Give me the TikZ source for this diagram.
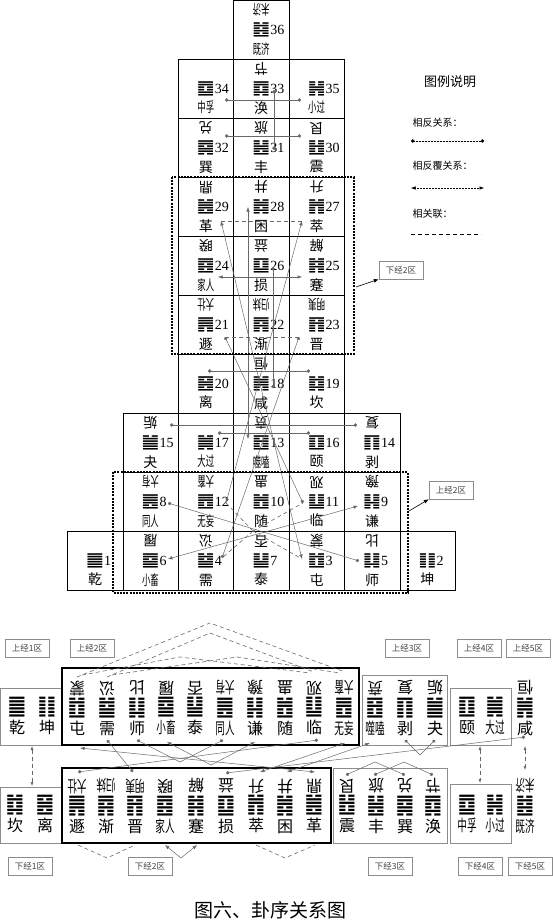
\documentclass[tikz,border=0pt]{standalone}
\usepackage{fontspec}
\setmainfont{Liberation Serif}
\newfontfamily\cjk{Noto Sans CJK SC}
\newfontfamily\hexfont{DejaVu Sans}
\usetikzlibrary{arrows.meta}

\newcommand{\hx}[1]{\scalebox{1.45}[1.15]{\hexfont\char"4D#1}}
\newcommand{\hxb}[1]{\scalebox{1.3}[1.4]{\hexfont\char"4D#1}}
\newcommand{\up}[1]{\rotatebox[origin=c]{180}{#1}}
\newcommand{\duo}[1]{\scalebox{0.6}[1]{#1}}
\newcommand{\nr}[1]{\rlap{\rmfamily#1}}

\begin{document}
\begin{tikzpicture}[
    x=1pt, y=-1pt,
    every node/.style={font=\cjk},
    cell/.style={
        draw,
        minimum width=55.4pt,
        minimum height=59pt,
        inner sep=0pt,
        align=center,
        font=\cjk\fontsize{14}{19.5}\selectfont
    },
    gua/.style={inner sep=0pt, align=center, font=\cjk\fontsize{16}{20}\selectfont},
    tag/.style={draw=boxgray, text=darkgray, minimum width=44pt, minimum height=18pt,
        inner sep=1pt, font=\cjk\fontsize{8.5}{10}\selectfont},
    opp/.style={draw=linegray, line width=0.5pt, {Circle[length=3.4pt]}-{Circle[length=3.4pt]}},
    inv/.style={draw=linegray, line width=0.5pt, {Latex[length=4.5pt,width=3.5pt]}-{Latex[length=4.5pt,width=3.5pt]}},
    rel/.style={draw=linegray, line width=0.6pt, dash pattern=on 4pt off 3pt},
    zone/.style={draw=black, line width=1.4pt, dash pattern=on 2pt off 1.2pt}
]

\definecolor{linegray}{RGB}{105, 105, 105}
\definecolor{boxgray}{RGB}{140, 140, 140}

\useasboundingbox (0,0) rectangle (553,923);

% pyramid
\node[cell] (g36) at (261.2,29.5)  {\up{\duo{未济}}\\\hx{FE}\nr{36}\\\duo{既济}};
\node[cell] (g34) at (205.8,88.5)  {\phantom{口}\\\hx{FC}\nr{34}\\\duo{中孚}};
\node[cell] (g33) at (261.2,88.5)  {\up{节}\\\hx{FA}\nr{33}\\涣};
\node[cell] (g35) at (316.6,88.5)  {\phantom{口}\\\hx{FD}\nr{35}\\\duo{小过}};
\node[cell] (g32) at (205.8,147.5) {\up{兑}\\\hx{F8}\nr{32}\\巽};
\node[cell] (g31) at (261.2,147.5) {\up{旅}\\\hx{F6}\nr{31}\\丰};
\node[cell] (g30) at (316.6,147.5) {\up{艮}\\\hx{F2}\nr{30}\\震};
\node[cell] (g29) at (205.8,206.5) {\up{鼎}\\\hx{F0}\nr{29}\\革};
\node[cell] (g28) at (261.2,206.5) {\up{井}\\\hx{EE}\nr{28}\\困};
\node[cell] (g27) at (316.6,206.5) {\up{升}\\\hx{EC}\nr{27}\\萃};
\node[cell] (g24) at (205.8,265.5) {\up{睽}\\\hx{E4}\nr{24}\\\duo{家人}};
\node[cell] (g26) at (261.2,265.5) {\up{益}\\\hx{E8}\nr{26}\\损};
\node[cell] (g25) at (316.6,265.5) {\up{解}\\\hx{E6}\nr{25}\\蹇};
\node[cell] (g21) at (205.8,324.5) {\up{\duo{大壮}}\\\hx{E0}\nr{21}\\遯};
\node[cell] (g22) at (261.2,324.5) {\up{\duo{归妹}}\\\hx{F4}\nr{22}\\渐};
\node[cell] (g23) at (316.6,324.5) {\up{\duo{明夷}}\\\hx{E2}\nr{23}\\晋};
\node[cell] (g20) at (205.8,383.5) {\phantom{口}\\\hx{DD}\nr{20}\\离};
\node[cell] (g18) at (261.2,383.5) {\up{恒}\\\hx{DE}\nr{18}\\咸};
\node[cell] (g19) at (316.6,383.5) {\phantom{口}\\\hx{DC}\nr{19}\\坎};
\node[cell] (g15) at (150.4,442.5) {\up{姤}\\\hx{EA}\nr{15}\\夬};
\node[cell] (g17) at (205.8,442.5) {\phantom{口}\\\hx{DB}\nr{17}\\\duo{大过}};
\node[cell] (g13) at (261.2,442.5) {\up{贲}\\\hx{D4}\nr{13}\\\duo{噬嗑}};
\node[cell] (g16) at (316.6,442.5) {\phantom{口}\\\hx{DA}\nr{16}\\颐};
\node[cell] (g14) at (372,442.5)   {\up{复}\\\hx{D6}\nr{14}\\剥};
\node[cell] (g8)  at (150.4,501.5) {\up{\duo{大有}}\\\hx{CC}\nr{8}\\\duo{同人}};
\node[cell] (g12) at (205.8,501.5) {\up{\duo{大畜}}\\\hx{D8}\nr{12}\\\duo{无妄}};
\node[cell] (g10) at (261.2,501.5) {\up{蛊}\\\hx{D0}\nr{10}\\随};
\node[cell] (g11) at (316.6,501.5) {\up{观}\\\hx{D2}\nr{11}\\临};
\node[cell] (g9)  at (372,501.5)   {\up{豫}\\\hx{CE}\nr{9}\\谦};
\node[cell] (g1)  at (95,560.5)    {\phantom{口}\\\hx{C0}\nr{1}\\乾};
\node[cell] (g6)  at (150.4,560.5) {\up{履}\\\hx{C8}\nr{6}\\\duo{小畜}};
\node[cell] (g4)  at (205.8,560.5) {\up{讼}\\\hx{C4}\nr{4}\\需};
\node[cell] (g7)  at (261.2,560.5) {\up{否}\\\hx{CA}\nr{7}\\泰};
\node[cell] (g3)  at (316.6,560.5) {\up{蒙}\\\hx{C2}\nr{3}\\屯};
\node[cell] (g5)  at (372,560.5)   {\up{比}\\\hx{C6}\nr{5}\\师};
\node[cell] (g2)  at (427.4,560.5) {\phantom{口}\\\hx{C1}\nr{2}\\坤};

% end points in the pyramid
\coordinate (p34) at (225,100);  \coordinate (p35) at (301,100);
\coordinate (p32) at (225,136);  \coordinate (p30) at (301,136);
\coordinate (p33) at (274,90);   \coordinate (p31) at (274,150);
\coordinate (p29) at (221,221);  \coordinate (p27) at (302,221);
\coordinate (p28) at (248,207);  \coordinate (p13) at (248,439);
\coordinate (p24) at (218,277);  \coordinate (p25) at (302,277);
\coordinate (p26) at (273,267);  \coordinate (p18) at (273,388);
\coordinate (p21) at (225,337);  \coordinate (p23) at (299,337);
\coordinate (p20) at (208,371);  \coordinate (p19) at (310,371);
\coordinate (p15) at (170,425);  \coordinate (p14) at (357,425);
\coordinate (p17) at (218,433);  \coordinate (p16) at (310,433);
\coordinate (p8)  at (168,503);  \coordinate (p5)  at (359,561);
\coordinate (p6)  at (168,559);  \coordinate (p9)  at (358,506);
\coordinate (p12) at (226,503);  \coordinate (p11) at (303,503);
\coordinate (p4)  at (222,558);  \coordinate (p3)  at (302,559);
\coordinate (hub) at (253,531);

\draw[opp] (p34) -- (p35);
\draw[opp] (p32) -- (p30);
\draw[opp] (p33) -- (p31);
\draw[opp] (p26) -- (p18);
\draw[opp] (p20) -- (p19);
\draw[opp] (p15) -- (p14);
\draw[opp] (p17) -- (p16);
\draw[opp] (p8) -- (p5);
\draw[opp] (p21) -- (p11);
\draw[opp] (p23) -- (p4);
\draw[inv] (p28) -- (p13);
\draw[inv] (p24) -- (p25);
\draw[inv] (p6) -- (p9);
\draw[inv] (p29) -- (p3);
\draw[inv] (p27) -- (p12);
\draw[rel] (p29) -- (p27);
\draw[rel] (p21) -- (p23);
\draw[rel] (hub) -- (p12);
\draw[rel] (hub) -- (p11);
\draw[rel] (hub) -- (p4);
\draw[rel] (hub) -- (p3);

% zones
\draw[zone] (172,177) rectangle (354,354);
\draw[zone] (113,472) rectangle (408,593);
\node[tag] (tx2) at (401,270) {下经2区};
\node[tag] (ts2) at (451,490) {上经2区};
\draw[-{Latex[length=5pt,width=4pt]}, line width=0.6pt] (356,287) -- (tx2.south west);
\draw[-{Latex[length=5pt,width=4pt]}, line width=0.6pt] (409,511) -- (ts2.south west);

% legend
\node[font=\cjk\fontsize{13}{15}\selectfont] (leg) at (450,82) {图例说明};
\node[anchor=west, font=\cjk\fontsize{10}{12}\selectfont] (l1) at (409,123) {相反关系：};
\node[anchor=west, font=\cjk\fontsize{10}{12}\selectfont] (l2) at (409,166) {相反覆关系：};
\node[anchor=west, font=\cjk\fontsize{10}{12}\selectfont] (l3) at (409,214) {相关联：};
\coordinate (la) at (411,141); \coordinate (lb) at (484,141);
\coordinate (lc) at (411,188); \coordinate (ld) at (484,188);
\coordinate (le) at (411,234); \coordinate (lf) at (481,234);
\draw[opp, draw=black, densely dotted] (la) -- (lb);
\draw[inv, draw=black, densely dotted] (lc) -- (ld);
\draw[rel, draw=black, line width=0.9pt] (le) -- (lf);

% sequence, upper canon
\draw[boxgray, line width=0.7pt] (0,688) rectangle (62,745);
\draw[line width=1.2pt] (62,668) rectangle (359,745);
\draw[boxgray, line width=0.7pt] (362,675) rectangle (447,745);
\draw[boxgray, line width=0.7pt] (450,688) rectangle (511,745);

\node[gua] (k1)  at (17,708)  {\phantom{口}\\\hxb{C0}\\乾};
\node[gua] (k2)  at (47,708)  {\phantom{口}\\\hxb{C1}\\坤};
\node[gua] (k3)  at (77,708)  {\up{蒙}\\\hxb{C2}\\屯};
\node[gua] (k4)  at (107,708) {\up{讼}\\\hxb{C4}\\需};
\node[gua] (k5)  at (137,708) {\up{比}\\\hxb{C6}\\师};
\node[gua] (k6)  at (166,708) {\up{履}\\\hxb{C8}\\\duo{小畜}};
\node[gua] (k7)  at (195,708) {\up{否}\\\hxb{CA}\\泰};
\node[gua] (k8)  at (225,708) {\up{\duo{大有}}\\\hxb{CC}\\\duo{同人}};
\node[gua] (k9)  at (255,708) {\up{豫}\\\hxb{CE}\\谦};
\node[gua] (k10) at (285,708) {\up{蛊}\\\hxb{D0}\\随};
\node[gua] (k11) at (314,708) {\up{观}\\\hxb{D2}\\临};
\node[gua] (k12) at (344,708) {\up{\duo{大畜}}\\\hxb{D8}\\\duo{无妄}};
\node[gua] (k13) at (375,708) {\up{贲}\\\hxb{D4}\\\duo{噬嗑}};
\node[gua] (k14) at (405,708) {\up{复}\\\hxb{D6}\\剥};
\node[gua] (k15) at (435,708) {\up{姤}\\\hxb{EA}\\夬};
\node[gua] (k16) at (467,708) {\phantom{口}\\\hxb{DA}\\颐};
\node[gua] (k17) at (495,708) {\phantom{口}\\\hxb{DB}\\\duo{大过}};
\node[gua] (k18) at (525,708) {\up{恒}\\\hxb{DE}\\咸};

% sequence, lower canon
\draw[boxgray, line width=0.7pt] (0,787) rectangle (62,843);
\draw[line width=1.2pt] (62,768) rectangle (331,843);
\draw[boxgray, line width=0.7pt] (333,768) rectangle (447,843);
\draw[boxgray, line width=0.7pt] (450,784) rectangle (511,843);

\node[gua] (k19) at (15,806)  {\phantom{口}\\\hxb{DC}\\坎};
\node[gua] (k20) at (45,806)  {\phantom{口}\\\hxb{DD}\\离};
\node[gua] (k21) at (77,806)  {\up{\duo{大壮}}\\\hxb{E0}\\遯};
\node[gua] (k22) at (106,806) {\up{\duo{归妹}}\\\hxb{F4}\\渐};
\node[gua] (k23) at (135,806) {\up{\duo{明夷}}\\\hxb{E2}\\晋};
\node[gua] (k24) at (165,806) {\up{睽}\\\hxb{E4}\\\duo{家人}};
\node[gua] (k25) at (196,806) {\up{解}\\\hxb{E6}\\蹇};
\node[gua] (k26) at (226,806) {\up{益}\\\hxb{E8}\\损};
\node[gua] (k27) at (256,806) {\up{升}\\\hxb{EC}\\萃};
\node[gua] (k28) at (285,806) {\up{井}\\\hxb{EE}\\困};
\node[gua] (k29) at (314,806) {\up{鼎}\\\hxb{F0}\\革};
\node[gua] (k30) at (347,806) {\up{艮}\\\hxb{F2}\\震};
\node[gua] (k31) at (376,806) {\up{旅}\\\hxb{F6}\\丰};
\node[gua] (k32) at (405,806) {\up{兑}\\\hxb{F8}\\巽};
\node[gua] (k33) at (433,806) {\up{节}\\\hxb{FA}\\涣};
\node[gua] (k34) at (467,806) {\phantom{口}\\\hxb{FC}\\\duo{中孚}};
\node[gua] (k35) at (495,806) {\phantom{口}\\\hxb{FD}\\\duo{小过}};
\node[gua] (k36) at (525,806) {\up{\duo{未济}}\\\hxb{FE}\\\duo{既济}};

\node[tag] (ts1) at (27,648)  {上经1区};
\node[tag] (ts2b) at (92,648) {上经2区};
\node[tag] (ts3) at (407,648) {上经3区};
\node[tag] (ts4) at (479,648) {上经4区};
\node[tag] (ts5) at (528,648) {上经5区};
\node[tag] (tx1) at (30,866)  {下经1区};
\node[tag] (tx2b) at (150,866) {下经2区};
\node[tag] (tx3) at (390,866) {下经3区};
\node[tag] (tx4) at (480,866) {下经4区};
\node[tag] (tx5) at (530,866) {下经5区};

% links in the sequence
\coordinate (q3) at (80,748);   \coordinate (q29) at (315,772);
\coordinate (q4) at (107,740);  \coordinate (q23) at (133,772);
\coordinate (q11) at (318,740); \coordinate (q21) at (78,772);
\coordinate (q12) at (345,743); \coordinate (q27) at (260,772);
\coordinate (q13) at (370,743); \coordinate (q28) at (287,772);
\coordinate (q18) at (525,737); \coordinate (q26) at (226,773);
\coordinate (q5) at (137,740);  \coordinate (q8) at (223,740);
\coordinate (q6) at (167,742);  \coordinate (q9) at (255,742);
\coordinate (q14) at (405,740); \coordinate (q15) at (435,740);
\coordinate (q30) at (346,775); \coordinate (q32) at (405,775);
\coordinate (q31) at (374,775); \coordinate (q33) at (433,775);

\draw[inv] (q3) -- (q29);
\draw[opp] (q4) -- (q23);
\draw[opp] (q11) -- (q21);
\draw[inv] (q12) -- (q27);
\draw[inv] (q13) -- (q28);
\draw[opp] (q18) -- (q26);
\draw[opp] (q5) -- (180,762) -- (q8);
\draw[inv] (q6) -- (211,765) -- (q9);
\draw[opp] (q14) -- (420,755) -- (q15);
\draw[opp] (q30) -- (375,762) -- (q32);
\draw[opp] (q31) -- (404,762) -- (q33);

\draw[rel] (77,677) -- (210,623) -- (345,672);
\draw[rel] (107,677) -- (210,633) -- (314,672);
\draw[rel] (82,675) -- (180,657) -- (310,673);
\draw[rel] (112,675) -- (237,657) -- (340,673);
\draw[rel] (78,845) -- (107,858) -- (135,845);
\draw[rel] (256,845) -- (285,858) -- (315,845);
\draw[inv] (165,845) -- (181,858) -- (197,845);

\draw[rel, {Latex[length=4pt,width=3pt]}-{Latex[length=4pt,width=3pt]}, line width=0.5pt] (32,746) -- (32,786);
\draw[rel, {Latex[length=4pt,width=3pt]}-{Latex[length=4pt,width=3pt]}, line width=0.5pt] (480,746) -- (480,783);
\draw[rel, {Latex[length=4pt,width=3pt]}-{Latex[length=4pt,width=3pt]}, line width=0.5pt] (525,746) -- (525,770);

\node[font=\cjk\fontsize{19}{22}\selectfont] (title) at (270,910) {图六、卦序关系图};

\end{tikzpicture}
\end{document}
